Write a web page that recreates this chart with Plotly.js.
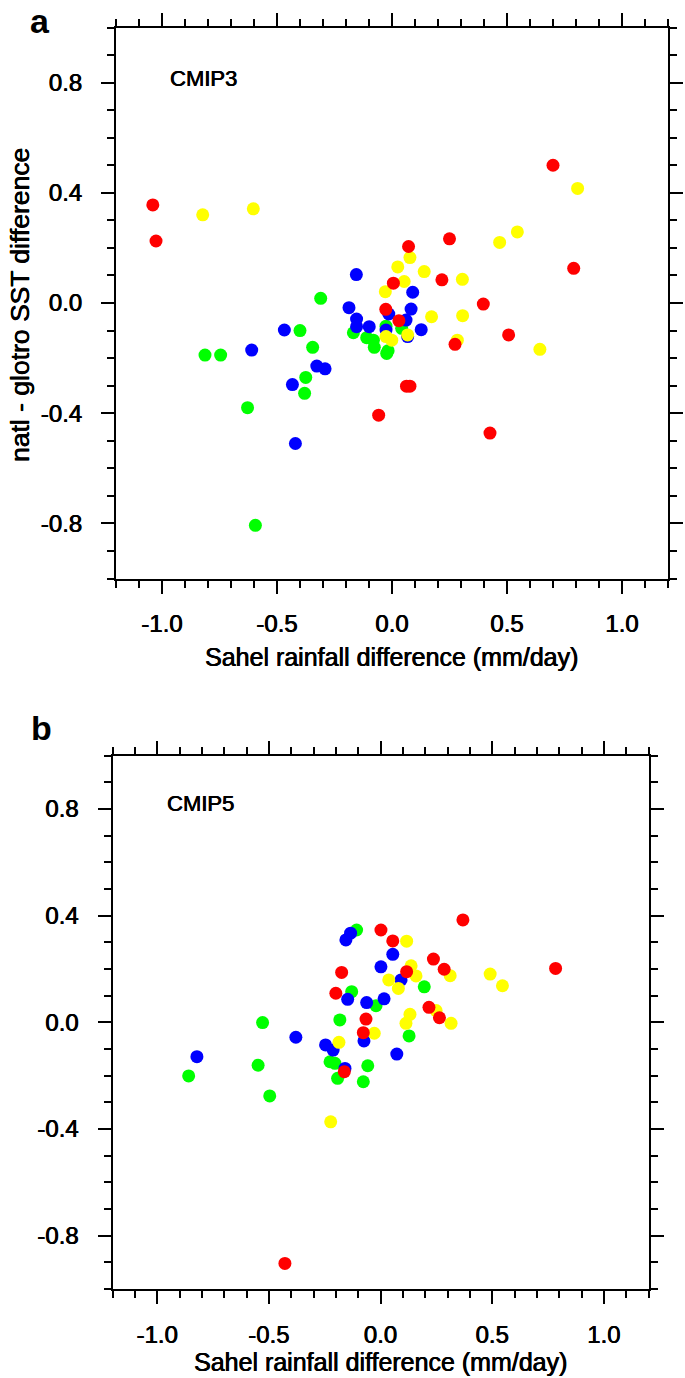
<!DOCTYPE html>
<html>
<head>
<meta charset="utf-8">
<script src="https://cdn.plot.ly/plotly-3.0.1.min.js"></script>
<style>html,body{margin:0;padding:0;background:#fff;}#chart{width:685px;height:1378px;}</style>
</head>
<body>
<div id="chart"></div>
<script>
// ---------- Panel a (CMIP3) ----------
const redA_x = [-1.04, -1.026, 0.70, 0.79, 0.25, 0.072, 0.217, 0.006, 0.397, -0.027, 0.03, 0.507, 0.274, 0.063, 0.078, -0.058, 0.426];
const redA_y = [0.356, 0.225, 0.50, 0.126, 0.233, 0.205, 0.084, 0.072, -0.004, -0.023, -0.064, -0.116, -0.15, -0.302, -0.302, -0.407, -0.472];
const yellowA_x = [-0.823, -0.603, 0.807, 0.545, 0.468, 0.078, 0.025, 0.14, 0.306, 0.053, -0.029, 0.172, 0.307, 0.068, -0.026, -0.001, 0.284, 0.643];
const yellowA_y = [0.32, 0.342, 0.416, 0.258, 0.22, 0.165, 0.131, 0.114, 0.086, 0.078, 0.041, -0.05, -0.046, -0.116, -0.122, -0.135, -0.135, -0.168];
const blueA_x = [-0.155, 0.09, -0.187, 0.083, -0.014, 0.061, -0.154, -0.154, -0.099, -0.026, 0.127, 0.068, -0.468, -0.61, -0.327, -0.291, -0.433, -0.42];
const blueA_y = [0.103, 0.039, -0.017, -0.022, -0.04, -0.062, -0.058, -0.086, -0.086, -0.098, -0.097, -0.122, -0.098, -0.171, -0.229, -0.239, -0.296, -0.51];
const greenA_x = [-0.31, -0.026, 0.042, -0.168, -0.11, -0.081, -0.077, -0.017, -0.023, -0.4, -0.813, -0.745, -0.345, -0.375, -0.38, -0.628, -0.594];
const greenA_y = [0.017, -0.084, -0.092, -0.108, -0.126, -0.135, -0.161, -0.173, -0.183, -0.1, -0.189, -0.189, -0.161, -0.27, -0.328, -0.38, -0.807];

// ---------- Panel b (CMIP5) ----------
const redB_x = [0.002, 0.055, -0.174, -0.2, -0.065, -0.077, -0.162, 0.369, 0.784, 0.237, 0.285, 0.117, 0.217, 0.264, -0.428];
const redB_y = [0.346, 0.305, 0.187, 0.109, 0.012, -0.039, -0.185, 0.384, 0.202, 0.237, 0.199, 0.19, 0.056, 0.017, -0.904];
const yellowB_x = [0.037, -0.028, -0.186, -0.223, 0.491, 0.546, 0.117, 0.137, 0.312, 0.159, 0.08, 0.249, 0.132, 0.114, 0.316];
const yellowB_y = [0.159, -0.041, -0.075, -0.373, 0.181, 0.137, 0.304, 0.212, 0.175, 0.174, 0.127, 0.044, 0.03, -0.004, -0.004];
const blueB_x = [-0.134, -0.155, 0.055, 0.002, -0.147, -0.062, 0.016, -0.379, -0.074, -0.246, -0.212, 0.073, -0.822, -0.159, 0.092];
const blueB_y = [0.334, 0.309, 0.255, 0.208, 0.086, 0.074, 0.088, -0.056, -0.07, -0.085, -0.104, -0.119, -0.129, -0.173, 0.159];
const greenB_x = [-0.107, -0.129, -0.02, -0.182, -0.528, -0.226, -0.204, -0.548, -0.057, -0.859, -0.192, -0.077, -0.496, 0.196, 0.128];
const greenB_y = [0.346, 0.115, 0.062, 0.009, -0.001, -0.148, -0.154, -0.161, -0.163, -0.201, -0.21, -0.223, -0.276, 0.133, -0.051];

// ---------- Ticks / labels ----------
const xTickVals = [-1.0, -0.5, 0.0, 0.5, 1.0];
const xTickText = ["-1.0", "-0.5", "0.0", "0.5", "1.0"];
const yTickVals = [-0.8, -0.4, 0.0, 0.4, 0.8];
const yTickText = ["-0.8", "-0.4", "0.0", "0.4", "0.8"];
const xTitle = "Sahel rainfall difference (mm/day)";
const yTitle = "natl - glotro SST difference";
const panelLabels = ["a", "b"];
const panelNames = ["CMIP3", "CMIP5"];

const COLORS = {green: "#00ff00", blue: "#0000ff", yellow: "#ffff00", red: "#ff0000"};
const FONT = "Liberation Sans, Arial, Helvetica, sans-serif";
const THICK = "0.45px 0 0 #000, -0.25px 0 0 #000";

function tr(x, y, color, xa, ya) {
  return {type: "scatter", mode: "markers", x: x, y: y, xaxis: xa, yaxis: ya,
    marker: {color: color, size: 13, line: {width: 0}}, hoverinfo: "x+y"};
}

const data = [
  tr(greenA_x, greenA_y, COLORS.green, "x", "y"),
  tr(blueA_x, blueA_y, COLORS.blue, "x", "y"),
  tr(yellowA_x, yellowA_y, COLORS.yellow, "x", "y"),
  tr(redA_x, redA_y, COLORS.red, "x", "y"),
  tr(greenB_x, greenB_y, COLORS.green, "x2", "y2"),
  tr(blueB_x, blueB_y, COLORS.blue, "x2", "y2"),
  tr(yellowB_x, yellowB_y, COLORS.yellow, "x2", "y2"),
  tr(redB_x, redB_y, COLORS.red, "x2", "y2")
];

function axisBase(extra) {
  return Object.assign({
    showline: true, linewidth: 2, linecolor: "#000", mirror: "ticks",
    ticks: "outside", ticklen: 13, tickwidth: 2, tickcolor: "#000",
    showgrid: false, zeroline: false, fixedrange: true,
    tickfont: {family: FONT, size: 24, color: "#000", shadow: THICK},
    minor: {tickmode: "linear", tick0: 0, dtick: 0.1, ticks: "outside", ticklen: 7, tickwidth: 2, tickcolor: "#000", showgrid: false}
  }, extra);
}

const H = 1378, W = 685;
const titleFont = {family: FONT, size: 25, color: "#000", shadow: THICK};
const aTop = 27.5, aBot = 578.5, bTop = 755.6, bBot = 1289;
const layout = {
  width: W, height: H,
  margin: {l: 0, r: 0, t: 0, b: 0},
  paper_bgcolor: "#fff", plot_bgcolor: "#fff",
  showlegend: false,
  xaxis: axisBase({domain: [116 / W, 668 / W], range: [-1.2, 1.2], anchor: "y",
    tickmode: "array", tickvals: xTickVals, ticktext: xTickText, ticklabelstandoff: 10}),
  yaxis: axisBase({domain: [1 - aBot / H, 1 - aTop / H], range: [-1.0, 1.0], anchor: "x",
    tickmode: "array", tickvals: yTickVals, ticktext: yTickText, ticklabelstandoff: 14}),
  xaxis2: axisBase({domain: [112.5 / W, 648.5 / W], range: [-1.2, 1.2], anchor: "y2",
    tickmode: "array", tickvals: xTickVals, ticktext: xTickText, ticklabelstandoff: 10}),
  yaxis2: axisBase({domain: [1 - bBot / H, 1 - bTop / H], range: [-1.0, 1.0], anchor: "x2",
    tickmode: "array", tickvals: yTickVals, ticktext: yTickText, ticklabelstandoff: 14}),
  annotations: [
    {xref: "paper", yref: "paper", x: 28 / W, y: 1, xanchor: "left", yanchor: "top",
      text: "<b>" + panelLabels[0] + "</b>", showarrow: false, font: {family: FONT, size: 34, color: "#000"}},
    {xref: "paper", yref: "paper", x: 29 / W, y: 1 - 749 / H, xanchor: "left", yanchor: "bottom",
      text: "<b>" + panelLabels[1] + "</b>", showarrow: false, font: {family: FONT, size: 34, color: "#000"}},
    {xref: "x", yref: "y", x: -0.975, y: 0.815, xanchor: "left", yanchor: "middle",
      text: panelNames[0], showarrow: false, font: {family: FONT, size: 22, color: "#000", shadow: THICK}},
    {xref: "x2", yref: "y2", x: -0.965, y: 0.82, xanchor: "left", yanchor: "middle",
      text: panelNames[1], showarrow: false, font: {family: FONT, size: 22, color: "#000", shadow: THICK}},
    {xref: "paper", yref: "paper", x: 392 / W, y: 1 - 657 / H, xanchor: "center", yanchor: "middle",
      text: xTitle, showarrow: false, font: titleFont},
    {xref: "paper", yref: "paper", x: 380.5 / W, y: 1 - 1362 / H, xanchor: "center", yanchor: "middle",
      text: xTitle, showarrow: false, font: titleFont},
    {xref: "paper", yref: "paper", x: 20 / W, y: 1 - 305 / H, xanchor: "center", yanchor: "middle",
      text: yTitle, textangle: -90, showarrow: false, font: Object.assign({}, titleFont, {size: 26.5})}
  ]
};

Plotly.newPlot("chart", data, layout, {staticPlot: true, displayModeBar: false});
</script>
</body>
</html>
